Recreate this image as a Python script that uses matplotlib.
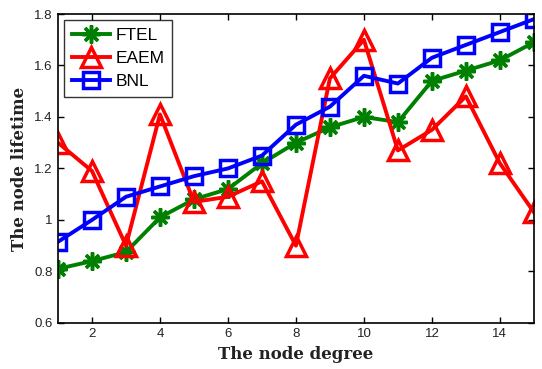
import matplotlib
matplotlib.use("Agg")
import matplotlib.pyplot as plt

degree = list(range(1, 16))
ftel = [0.81, 0.84, 0.875, 1.01, 1.08, 1.12, 1.22, 1.30, 1.36, 1.40, 1.38, 1.54, 1.58, 1.62, 1.69]
eaem = [1.30, 1.19, 0.90, 1.41, 1.07, 1.09, 1.15, 0.90, 1.55, 1.70, 1.27, 1.35, 1.48, 1.22, 1.03]
bnl = [0.915, 1.00, 1.09, 1.13, 1.17, 1.20, 1.25, 1.37, 1.44, 1.56, 1.53, 1.63, 1.68, 1.73, 1.78]

plt.rcParams['font.family'] = ['Liberation Sans', 'DejaVu Sans']

fig = plt.figure(figsize=(5.42, 3.69), dpi=100)
ax = fig.add_axes([0.107, 0.125, 0.878, 0.837])

ax.plot(degree, ftel, color='green', lw=2.8, marker=(8, 2, 0), markersize=13,
        markeredgewidth=2.5, label='FTEL')
ax.plot(degree, eaem, color='red', lw=2.8, marker='^', markersize=15,
        markerfacecolor='none', markeredgewidth=2.5, label='EAEM')
ax.plot(degree, bnl, color='blue', lw=2.8, marker='s', markersize=12,
        markerfacecolor='none', markeredgewidth=2.5, label='BNL')

ax.set_xlim(1, 15)
ax.set_ylim(0.6, 1.8)
ax.set_xticks([2, 4, 6, 8, 10, 12, 14])
ax.set_yticks([0.6, 0.8, 1.0, 1.2, 1.4, 1.6, 1.8])
ax.set_yticklabels(['0.6', '0.8', '1', '1.2', '1.4', '1.6', '1.8'])
ax.tick_params(direction='in', top=True, right=True, labelsize=9.5, length=4, width=1,
               labelcolor='#222222', pad=4)
for s in ax.spines.values():
    s.set_linewidth(1.2)

ax.set_xlabel('The node degree', family='DejaVu Serif', fontweight='bold', fontsize=12, color='#222222')
ax.set_ylabel('The node lifetime', family='DejaVu Serif', fontweight='bold', fontsize=12, color='#222222')

leg = ax.legend(loc='upper left', fontsize=12.5, fancybox=False, edgecolor='black',
                handlelength=2.2, borderaxespad=0.35, labelspacing=0.45, handletextpad=0.3,
                borderpad=0.45)
leg.get_frame().set_linewidth(1.0)

fig.savefig('out.png', dpi=100)
